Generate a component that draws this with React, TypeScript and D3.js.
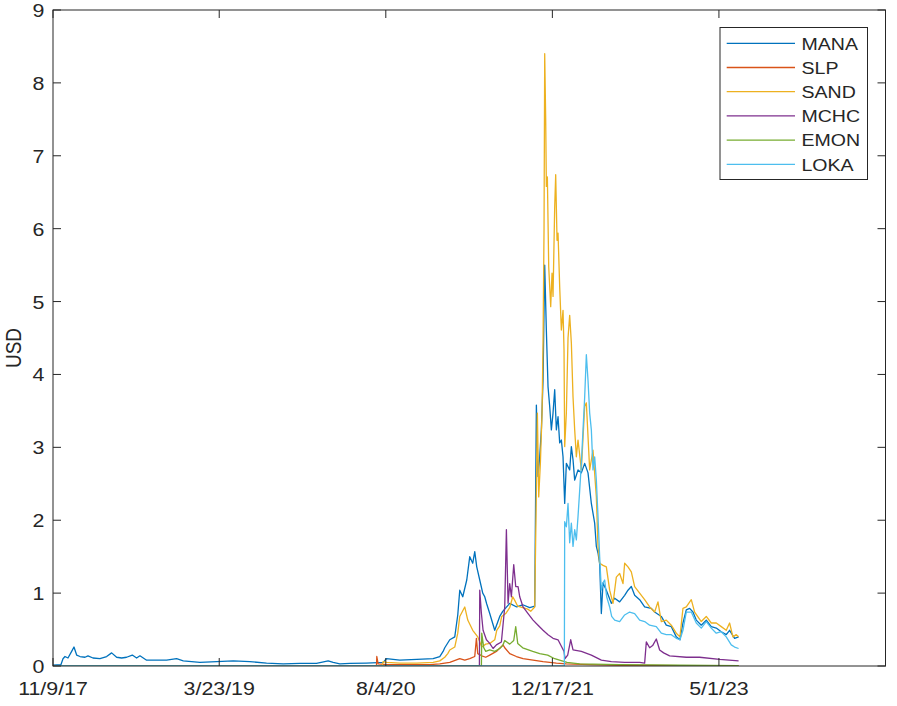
import React from "react";
import * as d3 from "d3";

type Pt = [string, number];

const MANA: Pt[] = [
  ["2017-11-09", 0.01], ["2017-12-03", 0.02], ["2017-12-09", 0.1], ["2017-12-15", 0.13], ["2017-12-24", 0.11],
  ["2018-01-04", 0.2], ["2018-01-11", 0.26], ["2018-01-19", 0.15], ["2018-01-29", 0.13], ["2018-02-13", 0.12],
  ["2018-02-22", 0.14], ["2018-03-09", 0.11], ["2018-03-30", 0.1], ["2018-04-19", 0.13], ["2018-05-04", 0.18],
  ["2018-05-19", 0.12], ["2018-06-03", 0.11], ["2018-06-18", 0.12], ["2018-07-05", 0.15], ["2018-07-18", 0.11],
  ["2018-07-28", 0.14], ["2018-08-17", 0.08], ["2018-09-16", 0.08], ["2018-10-16", 0.08], ["2018-11-15", 0.1],
  ["2018-12-05", 0.07], ["2019-01-24", 0.05], ["2019-03-15", 0.06], ["2019-05-04", 0.07], ["2019-06-23", 0.06],
  ["2019-08-12", 0.04], ["2019-10-01", 0.03], ["2019-11-20", 0.035], ["2020-01-09", 0.035], ["2020-02-13", 0.07],
  ["2020-02-28", 0.05], ["2020-03-19", 0.03], ["2020-04-18", 0.035], ["2020-06-07", 0.04], ["2020-07-27", 0.05],
  ["2020-08-06", 0.1], ["2020-09-15", 0.08], ["2020-11-05", 0.09], ["2020-12-24", 0.1], ["2021-01-13", 0.13],
  ["2021-01-23", 0.2], ["2021-01-28", 0.25], ["2021-02-12", 0.36], ["2021-02-27", 0.4], ["2021-03-08", 0.7],
  ["2021-03-14", 1.04], ["2021-03-23", 0.95], ["2021-04-04", 1.18], ["2021-04-13", 1.5], ["2021-04-22", 1.41],
  ["2021-04-28", 1.57], ["2021-05-04", 1.36], ["2021-05-13", 1.18], ["2021-05-22", 1.0], ["2021-05-28", 0.95],
  ["2021-06-03", 0.85], ["2021-06-12", 0.72], ["2021-06-27", 0.49], ["2021-07-12", 0.68], ["2021-07-21", 0.75],
  ["2021-08-11", 0.86], ["2021-09-01", 0.81], ["2021-09-19", 0.84], ["2021-10-10", 0.8], ["2021-10-25", 0.82],
  ["2021-10-30", 3.58], ["2021-11-04", 2.6], ["2021-11-09", 2.87], ["2021-11-14", 3.24], ["2021-11-19", 3.92],
  ["2021-11-24", 5.5], ["2021-11-29", 4.6], ["2021-12-04", 3.83], ["2021-12-09", 3.56], ["2021-12-14", 3.24],
  ["2021-12-19", 3.47], ["2021-12-24", 3.79], ["2021-12-29", 3.24], ["2022-01-03", 3.42], ["2022-01-08", 3.06],
  ["2022-01-13", 3.1], ["2022-01-18", 2.87], ["2022-01-23", 2.23], ["2022-01-28", 2.78], ["2022-02-07", 2.69],
  ["2022-02-12", 3.01], ["2022-02-17", 2.83], ["2022-02-22", 2.55], ["2022-03-04", 2.69], ["2022-03-14", 2.65],
  ["2022-03-24", 2.78], ["2022-04-03", 2.65], ["2022-04-13", 2.23], ["2022-04-23", 1.96], ["2022-04-28", 1.64],
  ["2022-05-03", 1.55], ["2022-05-08", 1.4], ["2022-05-13", 0.72], ["2022-05-18", 1.14], ["2022-05-28", 1.04],
  ["2022-06-12", 0.86], ["2022-06-22", 0.93], ["2022-07-07", 0.88], ["2022-07-22", 0.97], ["2022-08-01", 1.04],
  ["2022-08-11", 1.09], ["2022-08-21", 0.97], ["2022-09-05", 0.91], ["2022-09-20", 0.81], ["2022-10-10", 0.79],
  ["2022-10-20", 0.74], ["2022-11-09", 0.68], ["2022-11-24", 0.56], ["2022-12-09", 0.54], ["2022-12-24", 0.4],
  ["2023-01-04", 0.36], ["2023-01-13", 0.59], ["2023-01-23", 0.77], ["2023-02-02", 0.79], ["2023-02-12", 0.74],
  ["2023-02-22", 0.63], ["2023-03-09", 0.56], ["2023-03-24", 0.63], ["2023-04-08", 0.54], ["2023-04-23", 0.52],
  ["2023-05-08", 0.47], ["2023-05-23", 0.43], ["2023-06-02", 0.49], ["2023-06-17", 0.38], ["2023-06-29", 0.4],
];

const SLP: Pt[] = [
  ["2017-11-09", 0], ["2020-07-07", 0], ["2020-07-08", 0.13], ["2020-07-12", 0.03], ["2020-08-07", 0.02],
  ["2020-10-15", 0.02], ["2020-12-14", 0.02], ["2021-01-13", 0.03], ["2021-02-12", 0.05], ["2021-03-14", 0.1],
  ["2021-03-29", 0.08], ["2021-04-13", 0.1], ["2021-04-28", 0.13], ["2021-05-03", 0.38], ["2021-05-07", 0.17],
  ["2021-05-19", 0.14], ["2021-05-31", 0.12], ["2021-06-12", 0.15], ["2021-07-02", 0.2], ["2021-07-22", 0.29],
  ["2021-07-27", 0.25], ["2021-08-11", 0.17], ["2021-08-31", 0.13], ["2021-09-20", 0.1], ["2021-10-20", 0.08],
  ["2021-11-19", 0.06], ["2021-12-29", 0.04], ["2022-01-28", 0.03], ["2022-04-08", 0.02], ["2022-07-07", 0.01],
  ["2023-01-04", 0.005], ["2023-06-29", 0.004],
];

const SAND: Pt[] = [
  ["2017-11-09", 0], ["2020-07-24", 0], ["2020-07-27", 0.06], ["2020-08-07", 0.05], ["2020-09-15", 0.04],
  ["2020-11-05", 0.04], ["2020-12-24", 0.05], ["2021-01-13", 0.07], ["2021-01-28", 0.12], ["2021-02-06", 0.17],
  ["2021-02-12", 0.22], ["2021-02-27", 0.26], ["2021-03-08", 0.45], ["2021-03-14", 0.68], ["2021-03-29", 0.81],
  ["2021-04-07", 0.63], ["2021-04-22", 0.49], ["2021-05-07", 0.4], ["2021-05-19", 0.26], ["2021-05-31", 0.3],
  ["2021-06-12", 0.31], ["2021-06-27", 0.36], ["2021-07-03", 0.49], ["2021-07-12", 0.55], ["2021-07-18", 0.68],
  ["2021-07-30", 0.72], ["2021-08-11", 0.8], ["2021-08-20", 0.95], ["2021-08-26", 0.9], ["2021-09-04", 0.82],
  ["2021-09-19", 0.8], ["2021-10-04", 0.78], ["2021-10-13", 0.75], ["2021-10-25", 0.81], ["2021-10-30", 2.4],
  ["2021-11-02", 3.47], ["2021-11-06", 2.32], ["2021-11-11", 2.78], ["2021-11-16", 3.47], ["2021-11-19", 4.43],
  ["2021-11-22", 6.0], ["2021-11-24", 8.4], ["2021-11-27", 7.49], ["2021-11-29", 6.58], ["2021-12-02", 6.71],
  ["2021-12-06", 5.48], ["2021-12-12", 4.93], ["2021-12-16", 5.39], ["2021-12-19", 5.07], ["2021-12-24", 6.3],
  ["2021-12-27", 6.74], ["2021-12-31", 5.84], ["2022-01-03", 5.94], ["2022-01-08", 5.2], ["2022-01-13", 4.61],
  ["2022-01-18", 4.88], ["2022-01-21", 4.33], ["2022-01-23", 3.01], ["2022-01-28", 3.47], ["2022-02-02", 4.5],
  ["2022-02-07", 4.81], ["2022-02-12", 4.43], ["2022-02-17", 3.69], ["2022-02-22", 3.24], ["2022-02-27", 2.87],
  ["2022-03-04", 3.1], ["2022-03-14", 2.69], ["2022-03-24", 3.56], ["2022-03-29", 3.61], ["2022-04-08", 2.69],
  ["2022-04-18", 2.96], ["2022-04-28", 2.32], ["2022-05-03", 1.64], ["2022-05-08", 1.41], ["2022-05-18", 1.38],
  ["2022-05-28", 1.36], ["2022-06-07", 1.04], ["2022-06-17", 0.86], ["2022-06-27", 1.22], ["2022-07-07", 1.27],
  ["2022-07-17", 1.13], ["2022-07-22", 1.41], ["2022-08-01", 1.36], ["2022-08-11", 1.29], ["2022-08-21", 1.09],
  ["2022-09-05", 1.0], ["2022-09-20", 0.91], ["2022-10-05", 0.81], ["2022-10-20", 0.74], ["2022-10-30", 0.88],
  ["2022-11-09", 0.61], ["2022-11-24", 0.63], ["2022-12-09", 0.56], ["2022-12-24", 0.45], ["2023-01-04", 0.4],
  ["2023-01-13", 0.79], ["2023-01-23", 0.81], ["2023-02-07", 0.91], ["2023-02-17", 0.74], ["2023-03-09", 0.61],
  ["2023-03-24", 0.68], ["2023-04-08", 0.59], ["2023-04-23", 0.59], ["2023-05-08", 0.54], ["2023-05-23", 0.49],
  ["2023-06-02", 0.59], ["2023-06-12", 0.4], ["2023-06-22", 0.43], ["2023-06-29", 0.4],
];

const MCHC: Pt[] = [
  ["2017-11-09", 0], ["2021-05-12", 0], ["2021-05-13", 1.04], ["2021-05-18", 0.72], ["2021-05-23", 0.49],
  ["2021-06-02", 0.36], ["2021-06-12", 0.31], ["2021-06-22", 0.24], ["2021-07-02", 0.29], ["2021-07-17", 0.33],
  ["2021-07-27", 0.81], ["2021-08-01", 1.87], ["2021-08-06", 0.86], ["2021-08-11", 1.13], ["2021-08-16", 0.95],
  ["2021-08-23", 1.39], ["2021-08-29", 1.09], ["2021-09-05", 1.09], ["2021-09-10", 0.95], ["2021-09-20", 0.81],
  ["2021-10-05", 0.72], ["2021-10-20", 0.63], ["2021-11-04", 0.56], ["2021-11-19", 0.49], ["2021-12-04", 0.43],
  ["2021-12-19", 0.38], ["2022-01-03", 0.36], ["2022-01-13", 0.27], ["2022-01-21", 0.2], ["2022-01-24", 0.1],
  ["2022-02-01", 0.15], ["2022-02-10", 0.36], ["2022-02-17", 0.22], ["2022-03-14", 0.2], ["2022-04-13", 0.15],
  ["2022-05-13", 0.08], ["2022-06-12", 0.06], ["2022-07-22", 0.05], ["2022-09-05", 0.05], ["2022-09-20", 0.04],
  ["2022-09-25", 0.33], ["2022-10-05", 0.25], ["2022-10-14", 0.28], ["2022-10-25", 0.37], ["2022-11-04", 0.22],
  ["2022-11-16", 0.18], ["2022-12-04", 0.14], ["2023-01-23", 0.12], ["2023-03-04", 0.12], ["2023-05-03", 0.09],
  ["2023-06-29", 0.07],
];

const EMON: Pt[] = [
  ["2017-11-09", 0], ["2021-05-18", 0], ["2021-05-19", 0.45], ["2021-05-25", 0.25], ["2021-05-31", 0.2],
  ["2021-06-12", 0.22], ["2021-06-27", 0.2], ["2021-07-12", 0.24], ["2021-07-21", 0.28], ["2021-07-27", 0.35],
  ["2021-08-11", 0.3], ["2021-08-23", 0.35], ["2021-08-29", 0.54], ["2021-09-04", 0.31], ["2021-09-19", 0.25],
  ["2021-10-19", 0.2], ["2021-11-09", 0.17], ["2021-12-03", 0.15], ["2021-12-24", 0.1], ["2022-01-15", 0.07],
  ["2022-01-30", 0.05], ["2022-03-09", 0.03], ["2022-07-07", 0.02], ["2023-01-04", 0.01], ["2023-06-29", 0.006],
];

const LOKA: Pt[] = [
  ["2017-11-09", 0], ["2022-01-22", 0], ["2022-01-23", 1.98], ["2022-01-28", 1.91], ["2022-02-02", 2.23],
  ["2022-02-07", 1.69], ["2022-02-12", 1.96], ["2022-02-17", 1.64], ["2022-02-22", 1.87], ["2022-02-27", 1.73],
  ["2022-03-04", 2.05], ["2022-03-09", 2.41], ["2022-03-14", 2.78], ["2022-03-19", 3.24], ["2022-03-24", 3.69],
  ["2022-03-29", 4.27], ["2022-04-03", 3.92], ["2022-04-08", 3.47], ["2022-04-13", 3.24], ["2022-04-18", 2.69],
  ["2022-04-23", 2.87], ["2022-04-28", 2.55], ["2022-05-03", 2.05], ["2022-05-08", 1.5], ["2022-05-13", 1.04],
  ["2022-05-18", 1.14], ["2022-05-23", 1.18], ["2022-05-29", 0.95], ["2022-06-07", 0.81], ["2022-06-13", 0.68],
  ["2022-06-22", 0.63], ["2022-07-07", 0.61], ["2022-07-22", 0.7], ["2022-08-06", 0.74], ["2022-08-21", 0.72],
  ["2022-09-05", 0.63], ["2022-09-20", 0.61], ["2022-10-05", 0.56], ["2022-10-25", 0.54], ["2022-11-09", 0.45],
  ["2022-11-24", 0.43], ["2022-12-09", 0.43], ["2022-12-24", 0.38], ["2023-01-04", 0.36], ["2023-01-13", 0.49],
  ["2023-01-23", 0.74], ["2023-02-07", 0.74], ["2023-02-22", 0.59], ["2023-03-09", 0.52], ["2023-03-24", 0.61],
  ["2023-04-08", 0.52], ["2023-04-23", 0.45], ["2023-05-08", 0.47], ["2023-05-23", 0.4], ["2023-06-07", 0.29],
  ["2023-06-17", 0.26], ["2023-06-29", 0.24],
];

const SERIES_NAMES = ["MANA", "SLP", "SAND", "MCHC", "EMON", "LOKA"];
const SERIES_DATA = [MANA, SLP, SAND, MCHC, EMON, LOKA];
const COLORS = ["#0072BD", "#D95319", "#EDB120", "#7E2F8E", "#77AC30", "#4DBEEE"];

const X_DOMAIN = ["2017-11-09", "2024-09-12"];
const X_TICKS = ["2017-11-09", "2019-03-23", "2020-08-04", "2021-12-17", "2023-05-01"];
const X_TICK_LABELS = ["11/9/17", "3/23/19", "8/4/20", "12/17/21", "5/1/23"];
const Y_TICKS = [0, 1, 2, 3, 4, 5, 6, 7, 8, 9];
const Y_LABEL = "USD";

const W = 897, H = 706;
const M = { left: 53, right: 885.5, top: 10, bottom: 666 };
const FONT = "'Liberation Sans', Arial, Helvetica, sans-serif";
const AX = "#262626";
const SX = 1.15;

export default function App() {
  const parse = d3.timeParse("%Y-%m-%d");
  const x = d3.scaleTime().domain(X_DOMAIN.map((d) => parse(d) as Date)).range([M.left, M.right]);
  const y = d3.scaleLinear().domain([0, 9]).range([M.bottom, M.top]);
  const line = d3
    .line<Pt>()
    .x((d) => x(parse(d[0]) as Date))
    .y((d) => y(d[1]));
  const tick = 8;
  const legX = 720, legY = 27.5, legW = 147.5, legH = 152;
  const rowH = 24.2;

  const stretched = (tx: number, ty: number, txt: string, anchor: string, size: number) => (
    <text
      transform={`translate(${tx},${ty}) scale(${SX},1)`}
      textAnchor={anchor}
      fontSize={size}
      fontFamily={FONT}
      fill={AX}
    >
      {txt}
    </text>
  );

  return (
    <svg width={W} height={H} style={{ position: "absolute", left: 0, top: 0, background: "#fff" }}>
      <defs>
        <clipPath id="plotclip">
          <rect x={M.left} y={M.top} width={M.right - M.left} height={M.bottom - M.top} />
        </clipPath>
      </defs>
      <rect x={0} y={0} width={W} height={H} fill="#fff" />
      <g clipPath="url(#plotclip)">
        {SERIES_DATA.map((s, i) => (
          <path key={SERIES_NAMES[i]} d={line(s) || ""} fill="none" stroke={COLORS[i]} strokeWidth={1.3} strokeLinejoin="round" />
        ))}
      </g>
      <rect x={M.left} y={M.top} width={M.right - M.left} height={M.bottom - M.top} fill="none" stroke={AX} strokeWidth={1} />
      {Y_TICKS.map((t) => (
        <g key={"y" + t}>
          <line x1={M.left} x2={M.left + tick} y1={y(t)} y2={y(t)} stroke={AX} />
          <line x1={M.right} x2={M.right - tick} y1={y(t)} y2={y(t)} stroke={AX} />
          {stretched(44.5, y(t) + 7, String(t), "end", 18.6)}
        </g>
      ))}
      {X_TICKS.map((t, i) => {
        const xx = x(parse(t) as Date);
        return (
          <g key={"x" + t}>
            <line x1={xx} x2={xx} y1={M.bottom} y2={M.bottom - tick} stroke={AX} />
            <line x1={xx} x2={xx} y1={M.top} y2={M.top + tick} stroke={AX} />
            {stretched(xx, 695, X_TICK_LABELS[i], "middle", 18.6)}
          </g>
        );
      })}
      <text
        transform={`translate(21,348) rotate(-90) scale(1,${SX})`}
        textAnchor="middle"
        fontSize={19}
        fontFamily={FONT}
        fill={AX}
      >
        {Y_LABEL}
      </text>
      <rect x={legX} y={legY} width={legW} height={legH} fill="#fff" stroke={AX} strokeWidth={1} />
      {SERIES_NAMES.map((n, i) => {
        const ly = 43.3 + i * rowH;
        return (
          <g key={"leg" + n}>
            <line x1={726.7} x2={795} y1={ly} y2={ly} stroke={COLORS[i]} strokeWidth={1.3} />
            {stretched(801.5, ly + 6.2, n, "start", 17)}
          </g>
        );
      })}
    </svg>
  );
}
